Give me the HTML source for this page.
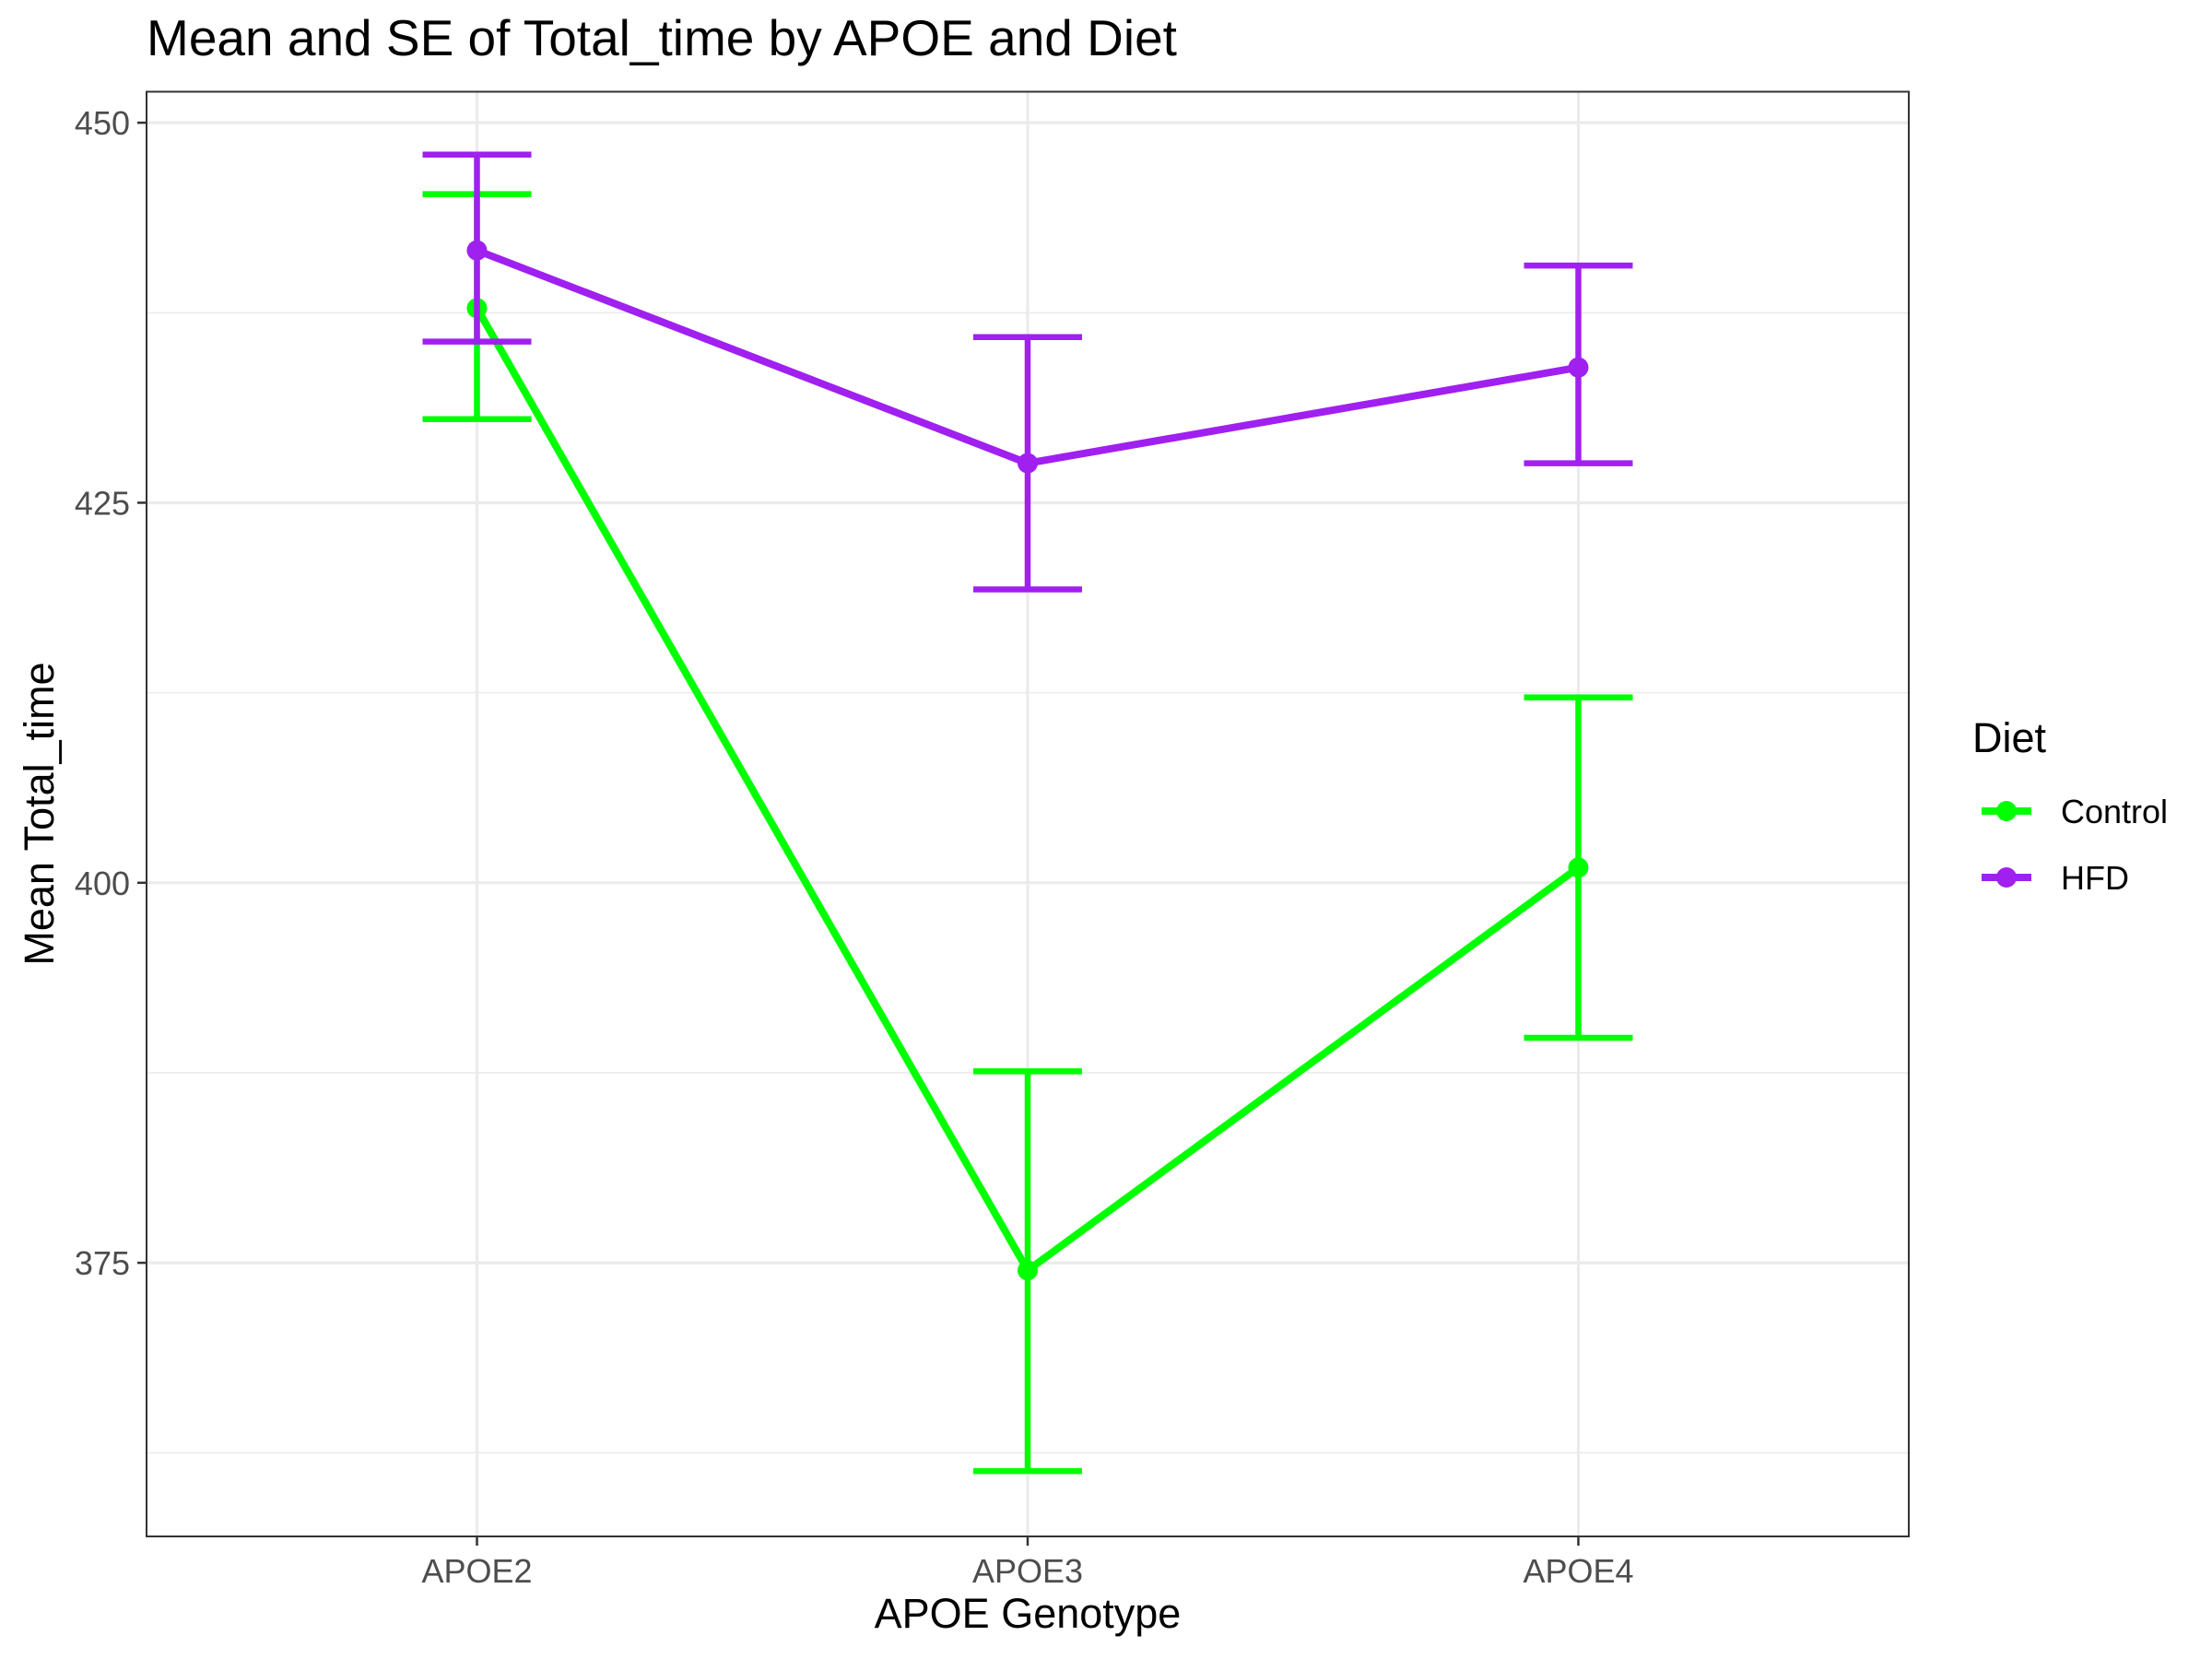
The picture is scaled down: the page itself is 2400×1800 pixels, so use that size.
<!DOCTYPE html>
<html><head><meta charset="utf-8"><style>
html,body{margin:0;padding:0;background:#fff}
svg{display:block}
text{font-family:"Liberation Sans",sans-serif}
</style></head><body>
<svg id="chart" width="2400" height="1800" viewBox="0 0 2400 1800" xmlns="http://www.w3.org/2000/svg">
<rect width="2400" height="1800" fill="#fff"/>
<text x="159" y="60" font-size="55" fill="#000">Mean and SE of Total_time by APOE and Diet</text>
<g id="grid"></g>
<g id="series"></g>
<rect x="159" y="99.5" width="1912" height="1567.5" fill="none" stroke="#333" stroke-width="2"/>
<g id="axes"></g>
<text x="1115" y="1766" font-size="45" text-anchor="middle" fill="#000">APOE Genotype</text>
<text transform="translate(58,883) rotate(-90)" font-size="45" text-anchor="middle" fill="#000">Mean Total_time</text>
<g>
<text x="2140" y="816" font-size="45" fill="#000">Diet</text>
<g>
<line x1="2150" y1="880" x2="2204" y2="880" stroke="#00ff00" stroke-width="8"/>
<circle cx="2177" cy="880" r="11" fill="#00ff00"/>
<text x="2236" y="893" font-size="36" fill="#000">Control</text>
</g>
<g>
<line x1="2150" y1="952" x2="2204" y2="952" stroke="#a020f0" stroke-width="8"/>
<circle cx="2177" cy="952" r="11" fill="#a020f0"/>
<text x="2236" y="965" font-size="36" fill="#000">HFD</text>
</g>
</g>
</svg>
<script>
const categories = ["APOE2","APOE3","APOE4"];
const seriesNames = ["Control","HFD"];
const controlMean = [437.8, 374.5, 401.0];
const controlUpper = [445.3, 387.6, 412.2];
const controlLower = [430.5, 361.3, 389.8];
const hfdMean = [441.6, 427.6, 433.9];
const hfdUpper = [447.9, 435.9, 440.6];
const hfdLower = [435.6, 419.3, 427.6];
const yTicks = [375, 400, 425, 450];
const yMinorTicks = [362.5, 387.5, 412.5, 437.5];

const NS = "http://www.w3.org/2000/svg";
const P = {l:159, r:2071, t:99.5, b:1667};
const yMin = 357.0, yMax = 452.04;
function yS(v){ return P.b - (v - yMin) / (yMax - yMin) * (P.b - P.t); }
function xS(i){ const step = (P.r - P.l) / (categories.length + 0.2); return P.l + step * (0.6 + i); }
function mk(tag, attrs, parent){ const e = document.createElementNS(NS, tag); for (const k in attrs) e.setAttribute(k, attrs[k]); parent.appendChild(e); return e; }

const grid = document.getElementById("grid");
const axes = document.getElementById("axes");
const series = document.getElementById("series");

yMinorTicks.forEach(v => {
  const l = mk("line", {x1:P.l, x2:P.r, y1:yS(v), y2:yS(v), stroke:"#ebebeb", "stroke-width":1.6}, grid);
  
  
});
yTicks.forEach(v => {
  const l = mk("line", {x1:P.l, x2:P.r, y1:yS(v), y2:yS(v), stroke:"#ebebeb", "stroke-width":3.2}, grid);
  
  
  const t = mk("line", {x1:P.l-10, x2:P.l, y1:yS(v), y2:yS(v), stroke:"#333", "stroke-width":2.5}, axes);
  
  
  const tx = mk("text", {x:P.l-18, y:yS(v)+13, "font-size":36, fill:"#4d4d4d", "text-anchor":"end"}, axes);
  tx.textContent = v;
  
  
});
categories.forEach((c, i) => {
  const l = mk("line", {x1:xS(i), x2:xS(i), y1:P.t, y2:P.b, stroke:"#ebebeb", "stroke-width":3.2}, grid);
  
  
  const t = mk("line", {x1:xS(i), x2:xS(i), y1:P.b, y2:P.b+10, stroke:"#333", "stroke-width":2.5}, axes);
  
  
  const tx = mk("text", {x:xS(i), y:P.b+50, "font-size":36, fill:"#4d4d4d", "text-anchor":"middle"}, axes);
  tx.textContent = c;
  
  
});

function drawSeries(mean, upper, lower, color, name){
  const g = mk("g", {}, series);
  
  
  mean.forEach((m, i) => {
    const e = mk("path", {d:`M${xS(i)-59},${yS(upper[i])}H${xS(i)+59}M${xS(i)},${yS(upper[i])}V${yS(lower[i])}M${xS(i)-59},${yS(lower[i])}H${xS(i)+59}`, stroke:color, "stroke-width":6.5, fill:"none"}, g);
    
    
  });
  const ln = mk("polyline", {points: mean.map((m,i)=>xS(i)+","+yS(m)).join(" "), stroke:color, "stroke-width":8, fill:"none", "stroke-linejoin":"round"}, g);
  
  
  mean.forEach((m, i) => {
    const c = mk("circle", {cx:xS(i), cy:yS(m), r:11, fill:color}, g);
    
    
  });
}
drawSeries(controlMean, controlUpper, controlLower, "#00ff00", seriesNames[0]);
drawSeries(hfdMean, hfdUpper, hfdLower, "#a020f0", seriesNames[1]);
</script>
</body></html>
